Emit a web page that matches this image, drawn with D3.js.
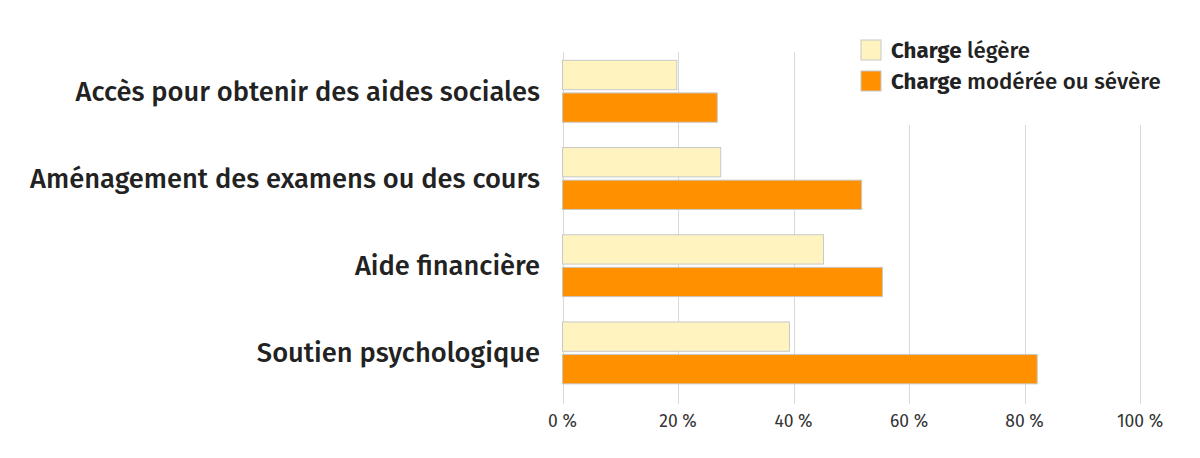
<!DOCTYPE html>
<html>
<head>
<meta charset="utf-8">
<script src="https://cdn.jsdelivr.net/npm/d3@7"></script>
<style>
  body { margin: 0; background: #fff; }
  svg { display: block; font-family: "Fira Sans", "Open Sans", sans-serif; }
</style>
</head>
<body>
<div id="chart"></div>
<script>
const categories = [
  "Accès pour obtenir des aides sociales",
  "Aménagement des examens ou des cours",
  "Aide financière",
  "Soutien psychologique"
];
const series = ["Charge légère", "Charge modérée ou sévère"];
const legere = [19.8, 27.4, 45.2, 39.3];
const moderee = [26.8, 51.8, 55.4, 82.2];
const xTicks = [0, 20, 40, 60, 80, 100];

const data = categories.map((c, i) => ({ cat: c, values: [legere[i], moderee[i]] }));
const colors = ["#fff3c0", "#ff9000"];

const W = 1200, H = 458;

const svg = d3.select("#chart").append("svg")
  .attr("width", W)
  .attr("height", H);

const x = d3.scaleLinear().domain([0, 100]).range([562.5, 1140]);

const y = d3.scaleBand()
  .domain(categories)
  .range([47.7, 396.5])
  .paddingInner(0.29)
  .paddingOuter(0.145);

const ySub = d3.scaleBand()
  .domain(series)
  .range([0, y.bandwidth()])
  .paddingInner(0.1);

// gridlines
svg.append("g")
  .selectAll("line")
  .data(xTicks)
  .join("line")
  .attr("x1", d => Math.round(x(d)) + 0.5)
  .attr("x2", d => Math.round(x(d)) + 0.5)
  .attr("y1", 52)
  .attr("y2", 404)
  .attr("stroke", "#d9d9d9")
  .attr("stroke-width", 1);

// x tick labels
svg.append("g")
  .selectAll("text")
  .data(xTicks)
  .join("text")
  .attr("x", d => x(d))
  .attr("y", 427)
  .attr("text-anchor", "middle")
  .attr("font-size", 17.5)
  .attr("fill", "#333")
  .text(d => `${d} %`);

// bars
const groups = svg.append("g")
  .selectAll("g")
  .data(data)
  .join("g")
  .attr("transform", d => `translate(0,${y(d.cat)})`);

groups.selectAll("rect")
  .data(d => d.values.map((v, i) => ({ s: series[i], v, i })))
  .join("rect")
  .attr("x", x(0))
  .attr("y", d => ySub(d.s))
  .attr("width", d => x(d.v) - x(0))
  .attr("height", ySub.bandwidth())
  .attr("fill", d => colors[d.i])
  .attr("stroke", "#c8c8c8")
  .attr("stroke-width", 1);

// category labels
svg.append("g")
  .selectAll("text")
  .data(categories)
  .join("text")
  .attr("x", 540)
  .attr("y", d => y(d) + y.bandwidth() / 2)
  .attr("dy", "0.35em")
  .attr("text-anchor", "end")
  .attr("font-size", 27.3)
  .attr("font-weight", 500)
  .attr("fill", "#222")
  .text(d => d);

// legend
const legend = svg.append("g");
legend.append("rect")
  .attr("x", 845).attr("y", 28)
  .attr("width", 330).attr("height", 97)
  .attr("fill", "#fff");

const li = legend.selectAll("g")
  .data(series)
  .join("g")
  .attr("transform", (d, i) => `translate(861,${40 + i * 31})`);

li.append("rect")
  .attr("width", 20).attr("height", 20)
  .attr("fill", (d, i) => colors[i])
  .attr("stroke", "#c8c8c8");

const lt = li.append("text")
  .attr("x", 30)
  .attr("y", 10)
  .attr("dy", "0.35em")
  .attr("font-size", 22.3)
  .attr("font-weight", 500)
  .attr("fill", "#222");
lt.append("tspan").attr("font-weight", "bold").text("Charge");
lt.append("tspan").text(d => d.replace("Charge", ""));
</script>
</body>
</html>
